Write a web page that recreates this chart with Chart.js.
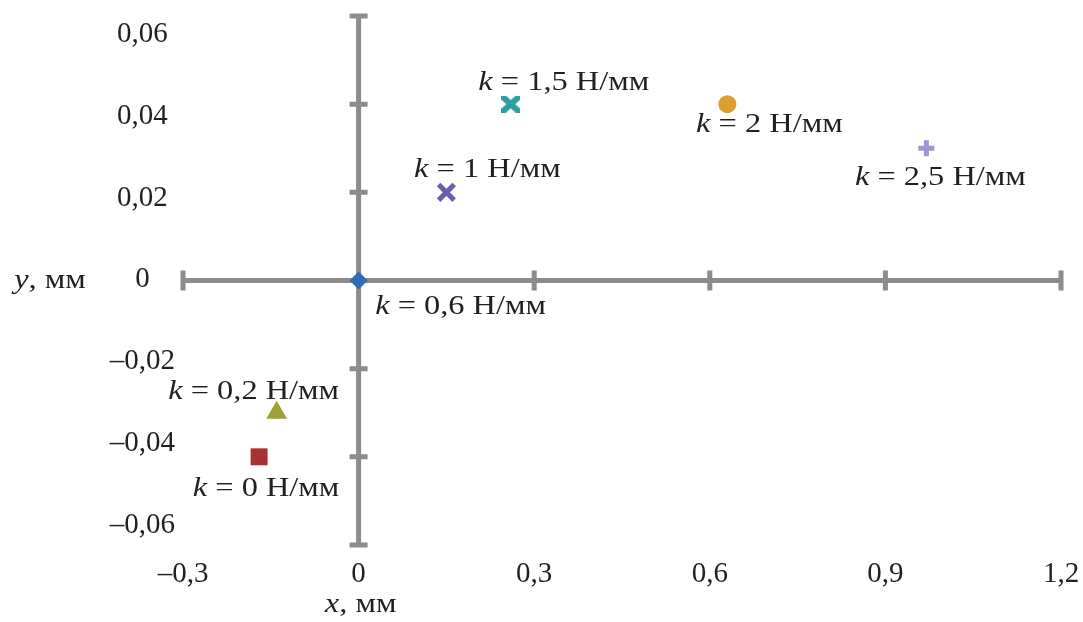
<!DOCTYPE html>
<html>
<head>
<meta charset="utf-8">
<script src="https://cdn.jsdelivr.net/npm/chart.js@4.4.1/dist/chart.umd.min.js"></script>
<style>
  html, body { margin: 0; padding: 0; background: #ffffff; }
  #wrap { width: 1083px; height: 622px; }
</style>
</head>
<body>
<div id="wrap"><canvas id="c" width="1083" height="622"></canvas></div>
<script>
// ---------- data ----------
const kLabels = ['0', '0,2', '0,6', '1', '1,5', '2', '2,5'];
const xValues = [-0.17, -0.14, 0, 0.15, 0.26, 0.63, 0.97];
const yValues = [-0.04, -0.03, 0, 0.02, 0.04, 0.04, 0.03];
const xTicks = [-0.3, 0, 0.3, 0.6, 0.9, 1.2];
const xTickLabels = ['–0,3', '0', '0,3', '0,6', '0,9', '1,2'];
const yTicks = [-0.06, -0.04, -0.02, 0, 0.02, 0.04, 0.06];
const yTickLabels = ['–0,06', '–0,04', '–0,02', '0', '0,02', '0,04', '0,06'];

// ---------- styles (kept separate from data) ----------
const GRAY = '#8c8c8c';
const TEXT = '#231f20';
const SERIF = '"Liberation Serif", "Times New Roman", serif';

function tealMarker() {
  const c = document.createElement('canvas');
  c.width = 19; c.height = 17;
  const g = c.getContext('2d');
  g.beginPath();
  g.rect(0, 0, 19, 17);
  g.clip();
  g.strokeStyle = '#2f9c9e';
  g.lineWidth = 6;
  g.beginPath();
  g.moveTo(-2, -2); g.lineTo(21, 19);
  g.moveTo(21, -2); g.lineTo(-2, 19);
  g.stroke();
  return c;
}

const markerStyles = [
  { pointStyle: 'rect', radius: 12, color: '#a83232', border: 0 },
  { pointStyle: 'triangle', radius: 12, color: '#9fa035', border: 0 },
  { pointStyle: 'rectRot', radius: 9, color: '#2f6db5', border: 0 },
  { pointStyle: 'crossRot', radius: 11, color: '#6a5fa8', border: 5 },
  { pointStyle: tealMarker(), radius: 10, color: '#2f9c9e', border: 0 },
  { pointStyle: 'circle', radius: 9, color: '#d9a032', border: 0 },
  { pointStyle: 'cross', radius: 8, color: '#9b97d6', border: 5 }
];
// label centre offsets from the marker, in pixels
const labelOffsets = [
  [7, 32], [-23, -21], [102, 26], [41, -22], [53, -21], [42, 21], [14, 30]
];

const datasets = kLabels.map((k, i) => ({
  label: 'k = ' + k + ' Н/мм',
  data: [{ x: xValues[i], y: yValues[i] }],
  pointStyle: markerStyles[i].pointStyle,
  pointRadius: markerStyles[i].radius,
  pointHoverRadius: markerStyles[i].radius,
  backgroundColor: markerStyles[i].color,
  borderColor: markerStyles[i].color,
  pointBorderWidth: markerStyles[i].border,
  borderWidth: markerStyles[i].border
}));

function drawMixed(ctx, cx, cy, italicPart, rest, size, stretch) {
  ctx.save();
  ctx.translate(cx, cy);
  ctx.scale(stretch, 1);
  ctx.fillStyle = TEXT;
  ctx.textBaseline = 'middle';
  ctx.textAlign = 'left';
  ctx.font = 'italic ' + size + 'px ' + SERIF;
  const w1 = ctx.measureText(italicPart).width;
  ctx.font = size + 'px ' + SERIF;
  const w2 = ctx.measureText(rest).width;
  const start = -(w1 + w2) / 2;
  ctx.font = 'italic ' + size + 'px ' + SERIF;
  ctx.fillText(italicPart, start, 0);
  ctx.font = size + 'px ' + SERIF;
  ctx.fillText(rest, start + w1, 0);
  ctx.restore();
}

const crossAxesPlugin = {
  id: 'crossAxes',
  beforeDatasetsDraw(chart) {
    const { ctx } = chart;
    const xs = chart.scales.x, ys = chart.scales.y;
    const x0 = xs.getPixelForValue(0), y0 = ys.getPixelForValue(0);
    const xl = xs.getPixelForValue(xTicks[0]), xr = xs.getPixelForValue(xTicks[xTicks.length - 1]);
    const yt = ys.getPixelForValue(yTicks[yTicks.length - 1]), yb = ys.getPixelForValue(yTicks[0]);
    ctx.save();
    ctx.strokeStyle = GRAY;
    ctx.lineWidth = 5;
    ctx.lineCap = 'butt';
    ctx.beginPath();
    ctx.moveTo(xl, y0); ctx.lineTo(xr, y0);
    ctx.moveTo(x0, yt); ctx.lineTo(x0, yb);
    xTicks.forEach(v => {
      if (v === 0) return;
      const p = xs.getPixelForValue(v);
      ctx.moveTo(p, y0 - 10); ctx.lineTo(p, y0 + 10);
    });
    yTicks.forEach(v => {
      if (v === 0) return;
      const p = ys.getPixelForValue(v);
      ctx.moveTo(x0 - 9, p); ctx.lineTo(x0 + 9, p);
    });
    ctx.stroke();
    ctx.restore();
  },
  afterDatasetsDraw(chart) {
    const { ctx } = chart;
    const xs = chart.scales.x, ys = chart.scales.y;
    kLabels.forEach((k, i) => {
      const px = xs.getPixelForValue(xValues[i]);
      const py = ys.getPixelForValue(yValues[i]);
      drawMixed(ctx, px + labelOffsets[i][0], py + labelOffsets[i][1], 'k', ' = ' + k + ' Н/мм', 27, 1.2);
    });
    // axis titles
    drawMixed(ctx, xs.getPixelForValue(0) + 2, 605, 'x', ', мм', 27, 1.2);
    drawMixed(ctx, 50, ys.getPixelForValue(0), 'y', ', мм', 27, 1.2);
  }
};

new Chart(document.getElementById('c'), {
  type: 'scatter',
  data: { datasets },
  plugins: [crossAxesPlugin],
  options: {
    responsive: false,
    devicePixelRatio: 1,
    animation: false,
    layout: { padding: { top: 14, right: 22, bottom: 0, left: 0 } },
    plugins: { legend: { display: false }, tooltip: { enabled: false } },
    scales: {
      x: {
        type: 'linear',
        position: 'bottom',
        min: -0.3, max: 1.2,
        afterBuildTicks: s => { s.ticks = xTicks.map(v => ({ value: v })); },
        afterFit: s => { s.height = 77; s.paddingLeft = 0; s.paddingRight = 0; },
        grid: { display: false },
        border: { display: false },
        ticks: {
          padding: 4,
          color: TEXT,
          font: { family: SERIF, size: 29 },
          callback: (v, i) => xTickLabels[i]
        }
      },
      y: {
        type: 'linear',
        display: false,
        min: -0.06, max: 0.06
      },
      yl: {
        type: 'linear',
        position: 'left',
        min: -0.0649, max: 0.0646,
        afterBuildTicks: s => { s.ticks = yTicks.map(v => ({ value: v })); },
        afterFit: s => { s.width = 183; s.paddingTop = 0; s.paddingBottom = 0; },
        grid: { display: false },
        border: { display: false },
        ticks: {
          padding: 0,
          crossAlign: 'center',
          color: TEXT,
          font: { family: SERIF, size: 29 },
          callback: (v, i) => yTickLabels[i]
        }
      }
    }
  }
});
</script>
</body>
</html>
